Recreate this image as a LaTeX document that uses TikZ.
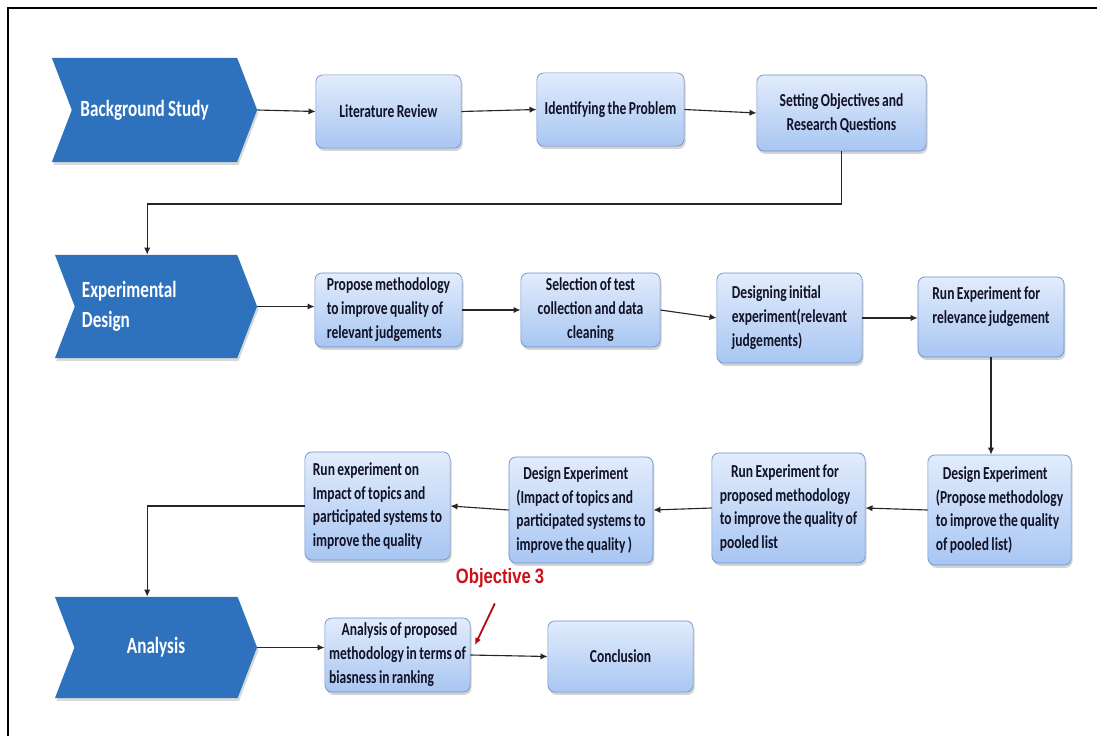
\documentclass[tikz,border=0pt]{standalone}
\usepackage{fontspec}
\newfontfamily\boxfont[FakeStretch=0.74, WordSpace=0.8]{Carlito}
\newfontfamily\objfont[FakeStretch=0.8, WordSpace=0.85]{Liberation Sans}
\usetikzlibrary{positioning, arrows.meta, shapes.symbols, shadows}
\definecolor{chevblue}{RGB}{46,114,190}
\definecolor{boxtop}{RGB}{226,236,252}
\definecolor{boxbot}{RGB}{168,198,242}
\definecolor{boxline}{RGB}{110,145,205}
\definecolor{boxtext}{RGB}{18,18,38}
\definecolor{objred}{RGB}{204,16,24}

\begin{document}
\begin{tikzpicture}[
    x=0.025cm, y=-0.025cm,
    >={Latex[length=5pt, width=4.5pt]},
    stage/.style={signal, signal from=west, signal to=east,
        signal pointer angle=138, fill=chevblue, text=white,
        font=\boxfont\bfseries\fontsize{16.5}{21}\selectfont, inner sep=0pt,
        drop shadow={shadow xshift=1pt, shadow yshift=-2pt, opacity=0.3}},
    stepbox/.style={rectangle, rounded corners=5pt, draw=boxline,
        line width=0.5pt, top color=boxtop, bottom color=boxbot,
        text=boxtext, font=\boxfont\bfseries\fontsize{13}{17}\selectfont,
        inner sep=2pt,
        drop shadow={shadow xshift=1pt, shadow yshift=-2pt, opacity=0.35}},
    link/.style={->, black!85, line width=0.8pt},
]

\useasboundingbox (0,0) rectangle (1097,736);

% --- Frame ---
\draw[line width=1pt] (8,736) -- (8,8) -- (1097,8);

% --- Stages ---
\node[stage, minimum width=5.13cm, minimum height=2.6cm,
      text width=3.7cm, align=flush left] (bg) at (154.5,110) {Background Study};
\node[stage, minimum width=5.05cm, minimum height=2.58cm,
      text width=3.7cm, align=flush left] (ed) at (156,306.5) {Experimental\\Design};
\node[stage, minimum width=5.05cm, minimum height=2.53cm,
      align=center] (an) at (156,647.5) {Analysis};

% --- Background study row ---
\node[stepbox, minimum width=3.63cm, minimum height=1.83cm]
    (lit) at (388.5,111.5) {Literature Review};
\node[stepbox, minimum width=3.68cm, minimum height=1.83cm]
    (ident) at (610.5,109.5) {Identifying the Problem};
\node[stepbox, minimum width=4.23cm, minimum height=1.9cm, align=center]
    (setobj) at (841.5,113) {Setting Objectives and\\Research Questions};

% --- Experimental design rows ---
\node[stepbox, minimum width=3.68cm, minimum height=1.85cm, align=left]
    (propose) at (388.5,310)
    {Propose methodology\\to improve quality of\\relevant judgements};
\node[stepbox, minimum width=3.48cm, minimum height=1.85cm, align=center]
    (select) at (590.5,310) {Selection of test\\collection and data\\cleaning};
\node[stepbox, minimum width=3.63cm, minimum height=2.25cm, align=left]
    (designinit) at (789.5,318)
    {Designing initial\\experiment(relevant\\judgements)};
\node[stepbox, minimum width=3.65cm, minimum height=2cm, align=left]
    (runrel) at (991,317) {Run Experiment for\\relevance judgement\\\mbox{}};

\node[stepbox, minimum width=3.58cm, minimum height=2.75cm, align=left]
    (designprop) at (999.5,510)
    {\hspace{5pt}Design Experiment\\(Propose methodology\\to improve the quality\\of pooled list)};
\node[stepbox, minimum width=3.83cm, minimum height=2.75cm, align=left]
    (runprop) at (788.5,508)
    {\hspace{8pt}Run Experiment for\\proposed methodology\\to improve the quality of\\pooled list};
\node[stepbox, minimum width=3.6cm, minimum height=2.65cm, align=left]
    (designimp) at (581,510)
    {\hspace{5pt}Design Experiment\\(Impact of topics and\\participated systems to\\improve the quality )};
\node[stepbox, minimum width=3.63cm, minimum height=2.7cm, align=left]
    (runimp) at (377.5,506)
    {Run experiment on\\Impact of topics and\\participated systems to\\improve the quality};

% --- Analysis row ---
\node[stepbox, minimum width=3.63cm, minimum height=1.85cm, align=left]
    (anal) at (397.5,655)
    {\hspace{9pt}Analysis of proposed\\methodology in terms of\\biasness in ranking};
\node[stepbox, minimum width=3.63cm, minimum height=1.78cm]
    (concl) at (620.5,656.5) {Conclusion};

% --- Objective marker ---
\node[font=\objfont\bfseries\fontsize{14.8}{17}\selectfont, text=objred]
    (obj) at (500,578) {Objective 3};
\coordinate (objtip) at (475,645);

% --- Connectors ---
\draw[link] (bg.east) -- (lit.west);
\draw[link] (lit.east) -- (ident.west);
\draw[link] (ident.east) -- (setobj.west);
\coordinate (turn1) at (841.5,204);
\draw[link] (setobj.south) -- (turn1) -| ([xshift=-0.22cm]ed.north);

\draw[link] (ed.east) -- (ed.east -| propose.west);
\draw[link] (propose.east) -- (select.west);
\draw[link] (select.east) -- (designinit.west);
\draw[link] (designinit.east) -- (designinit.east -| runrel.west);
\draw[link] (runrel.south) -- (runrel.south |- designprop.north);

\draw[link] (designprop.west) -- (runprop.east);
\draw[link] (runprop.west) -- (designimp.east);
\draw[link] (designimp.west) -- (runimp.east);
\draw[link] (runimp.west) -| ([xshift=-0.22cm]an.north);

\draw[link] (an.east) -- (an.east -| anal.west);
\draw[link] (anal.east) -- (concl.west);

\draw[->, objred!85!black, line width=1.3pt, shorten <=0.3cm]
    (obj.south) -- (objtip);

\end{tikzpicture}
\end{document}
